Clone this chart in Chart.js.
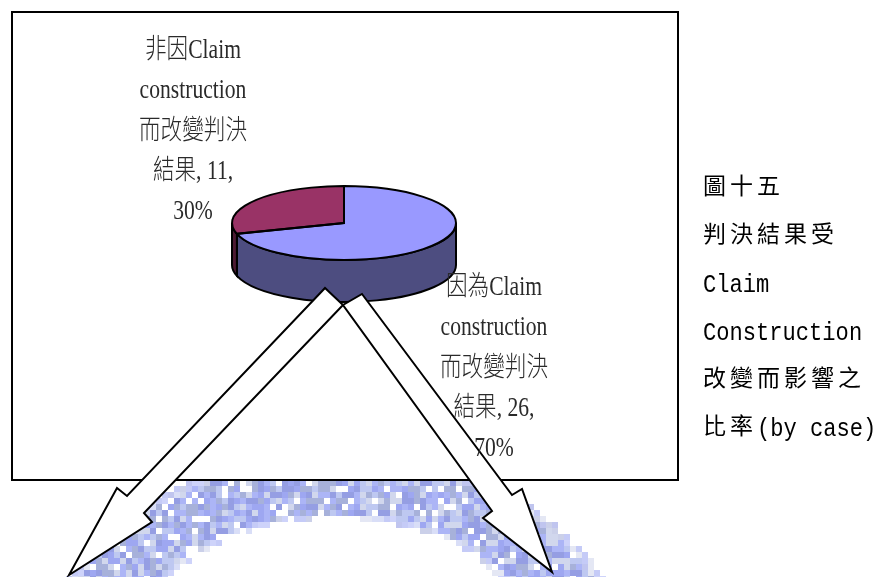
<!DOCTYPE html>
<html lang="zh-Hant">
<head>
<meta charset="utf-8">
<title>圖十五 判決結果受Claim Construction改變而影響之比率</title>
<script src="https://cdn.jsdelivr.net/npm/chart.js@4.4.1/dist/chart.umd.min.js"></script>
<style>
  html, body { margin: 0; padding: 0; background: #fff; }
  #wrap { position: relative; width: 877px; height: 577px; overflow: hidden; }
  #pieChart { position: absolute; left: 0; top: 0; }
  #caption { position: absolute; left: 703px; top: 165px; color: #000;
             font: 26px "Liberation Mono", "Noto Sans CJK TC", monospace; }
  #caption div { height: 48px; line-height: 48px; white-space: nowrap; }
  #caption .cjk { font-family: "Noto Sans CJK TC", sans-serif; font-size: 23px; line-height: 1;
                  letter-spacing: 4px; position: relative; top: -2px; }
  #caption .lat { display: inline-block; transform: scaleX(0.85); transform-origin: 0 0; }
</style>
</head>
<body>
<div id="wrap">
  <canvas id="pieChart" width="877" height="577"></canvas>
  <div id="caption">
    <div><span class="cjk">圖十五</span></div>
    <div><span class="cjk">判決結果受</span></div>
    <div><span class="lat">Claim</span></div>
    <div><span class="lat">Construction</span></div>
    <div><span class="cjk">改變而影響之</span></div>
    <div><span class="cjk">比率</span><span class="lat">(by case)</span></div>
  </div>
</div>
<script>
// case counts, blue slice first (starts at 12 o'clock, clockwise)
const categories = [
  ['因為Claim', 'construction', '而改變判決', '結果'],
  ['非因Claim', 'construction', '而改變判決', '結果']
];
const caseCounts = [26, 11];
const topColors = ['#9999FF', '#993366'];
const sideColors = ['#4D4D80', '#4D1A33'];

// where each slice label block starts (centre x, first line y)
const labelAnchors = [[494, 288], [193, 51]];
const LINE_GAP = 40.3;

const TILT = 37 / 112;   // vertical squash of the pie top
const DEPTH = 42;        // thickness of the pie

// big hollow arrows pointing out from under the pie
const arrowLeft = [[325, 288], [127, 496], [117, 488], [69, 575], [152, 522], [144, 513], [343, 305]];
const arrowRight = [[362, 294], [512, 495], [522, 489], [552, 572], [483, 518], [492, 511], [343, 305]];

function hash(i, j) {
  let h = (i * 374761393 + j * 668265263) | 0;
  h = (h ^ (h >>> 13)) * 1274126177 | 0;
  h = h ^ (h >>> 16);
  return (h >>> 0) / 4294967296;
}

// faded blue ring behind the frame (blocky, like a scanned logo)
function drawWatermark(ctx) {
  const cell = 6;
  const w = Math.ceil(877 / cell), h = Math.ceil(577 / cell);
  const off = document.createElement('canvas');
  off.width = w; off.height = h;
  const o = off.getContext('2d');
  const img = o.createImageData(w, h);
  const palette = [[150, 160, 240], [165, 175, 245], [160, 170, 215], [185, 195, 240], [205, 212, 235], [140, 150, 225]];
  for (let j = 0; j < h; j++) {
    for (let i = 0; i < w; i++) {
      const x = (i + 0.5) * cell, y = (j + 0.5) * cell;
      const outer = ((x - 336) / 290) ** 2 + ((y - 655) / 200) ** 2;
      const inner = ((x - 335) / 190) ** 2 + ((y - 640) / 122) ** 2;
      if (outer > 1 || inner < 1) continue;
      const n = hash(i, j);
      if (n < 0.1) continue;
      const c = palette[Math.floor(hash(j + 7, i + 3) * palette.length)];
      const k = (j * w + i) * 4;
      img.data[k] = c[0]; img.data[k + 1] = c[1]; img.data[k + 2] = c[2];
      img.data[k + 3] = (outer > 0.93 || inner < 1.08) ? 140 : 235;
    }
  }
  o.putImageData(img, 0, 0);
  ctx.save();
  ctx.imageSmoothingEnabled = false;
  ctx.drawImage(off, 0, 0, w * cell, h * cell);
  ctx.restore();
}

function drawArrow(ctx, pts) {
  ctx.beginPath();
  ctx.moveTo(pts[0][0], pts[0][1]);
  pts.slice(1).forEach(p => ctx.lineTo(p[0], p[1]));
  ctx.closePath();
  ctx.fillStyle = '#fff';
  ctx.fill();
  ctx.stroke();
}

// parts of an arc that face the viewer (canvas angles 0..PI)
function frontRanges(s, e) {
  const out = [];
  for (let k = -1; k <= 1; k++) {
    const a = Math.max(s, k * 2 * Math.PI), b = Math.min(e, k * 2 * Math.PI + Math.PI);
    if (b > a) out.push([a, b]);
  }
  return out;
}

const pie3d = {
  id: 'pie3d',
  beforeDraw(chart) {
    const ctx = chart.ctx;
    drawWatermark(ctx);
    ctx.save();
    ctx.fillStyle = '#fff';
    ctx.fillRect(12, 12, 666, 468);
    ctx.lineWidth = 2;
    ctx.strokeStyle = '#000';
    ctx.strokeRect(12, 12, 666, 468);
    ctx.restore();
  },
  beforeDatasetsDraw(chart) {
    const ctx = chart.ctx;
    const arcs = chart.getDatasetMeta(0).data;
    const cx = arcs[0].x, cy = arcs[0].y, rx = arcs[0].outerRadius, ry = rx * TILT;
    ctx.save();
    ctx.lineWidth = 2;
    ctx.strokeStyle = '#000';
    arcs.forEach((arc, i) => {
      frontRanges(arc.startAngle, arc.endAngle).forEach(([a, b]) => {
        ctx.beginPath();
        ctx.ellipse(cx, cy, rx, ry, 0, a, b);
        ctx.lineTo(cx + rx * Math.cos(b), cy + DEPTH + ry * Math.sin(b));
        ctx.ellipse(cx, cy + DEPTH, rx, ry, 0, b, a, true);
        ctx.closePath();
        ctx.fillStyle = sideColors[i];
        ctx.fill();
        ctx.stroke();
      });
    });
    ctx.restore();
    // squash the round pie into the tilted top face
    ctx.save();
    ctx.translate(0, cy);
    ctx.scale(1, TILT);
    ctx.translate(0, -cy);
  },
  afterDatasetsDraw(chart) {
    const ctx = chart.ctx;
    ctx.restore();
    const arcs = chart.getDatasetMeta(0).data;
    ctx.save();
    ctx.lineWidth = 2;
    ctx.strokeStyle = '#000';
    arcs.forEach(arc => {
      const ry = arc.outerRadius * TILT;
      ctx.beginPath();
      ctx.moveTo(arc.x, arc.y);
      ctx.ellipse(arc.x, arc.y, arc.outerRadius, ry, 0, arc.startAngle, arc.endAngle);
      ctx.closePath();
      ctx.stroke();
    });
    ctx.restore();
  },
  afterDraw(chart) {
    const ctx = chart.ctx;
    ctx.save();
    ctx.lineWidth = 2;
    ctx.strokeStyle = '#000';
    ctx.lineJoin = 'miter';
    drawArrow(ctx, arrowLeft);
    drawArrow(ctx, arrowRight);
    ctx.restore();

    // slice labels: name, count, percentage
    const values = chart.data.datasets[0].data;
    const total = values.reduce((a, b) => a + b, 0);
    ctx.save();
    ctx.font = '300 27px "Liberation Serif", "Noto Sans CJK TC", serif';
    ctx.fillStyle = '#2a2a2a';
    ctx.textAlign = 'center';
    ctx.textBaseline = 'middle';
    values.forEach((v, i) => {
      const lines = categories[i].slice();
      lines[lines.length - 1] += ', ' + v + ',';
      lines.push(Math.round(v / total * 100) + '%');
      const [x, y] = labelAnchors[i];
      lines.forEach((t, k) => {
        ctx.save();
        ctx.translate(x, y + k * LINE_GAP);
        ctx.scale(0.8, 1);
        ctx.fillText(t, 0, 0);
        ctx.restore();
      });
    });
    ctx.restore();
  }
};

new Chart(document.getElementById('pieChart'), {
  type: 'pie',
  data: {
    labels: categories.map(l => l.join('')),
    datasets: [{
      data: caseCounts,
      backgroundColor: topColors,
      borderWidth: 0,
      clip: false
    }]
  },
  options: {
    responsive: false,
    animation: false,
    layout: { padding: { left: 232, right: 421, top: 111, bottom: 242 } },
    plugins: {
      legend: { display: false },
      tooltip: { enabled: false }
    }
  },
  plugins: [pie3d]
});
</script>
</body>
</html>
